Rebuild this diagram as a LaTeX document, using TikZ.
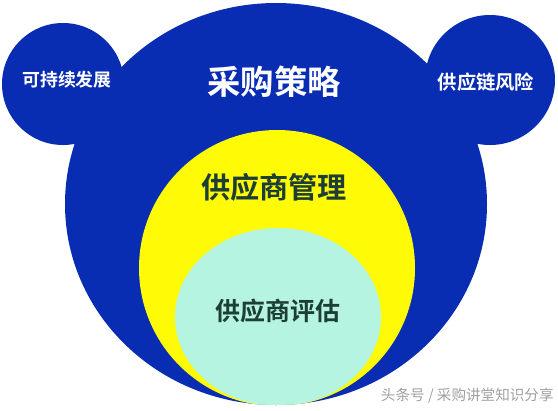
\documentclass[tikz,border=0pt]{standalone}
\usepackage{fontspec}
\newfontfamily\cjk{Noto Sans CJK SC}
\newfontfamily\cjkbold{Noto Sans CJK SC Bold}
\definecolor{headblue}{RGB}{8,44,178}
\definecolor{ringyellow}{RGB}{255,250,5}
\definecolor{coremint}{RGB}{182,244,226}
\definecolor{inktext}{RGB}{28,62,52}
\definecolor{marktext}{RGB}{160,160,160}
\tikzset{
  whitelabel/.style={text=white, inner sep=0pt, font=\cjkbold},
  darklabel/.style={text=inktext, inner sep=0pt, font=\cjkbold},
}

\begin{document}
\begin{tikzpicture}[x=0.02cm, y=-0.02cm]
			%%%%% START %%%%%
			\useasboundingbox[fill=white] (0, 0) rectangle (558, 410);
			
			\fill[headblue] (63, 84) circle (61);
			\fill[headblue] (490, 80) circle (65);
			\fill[headblue] (276, 204) ellipse [x radius=211, y radius=201];
			
			\begin{scope}
				\clip (276, 204) ellipse [x radius=211, y radius=201];
				\fill[ringyellow] (277, 268) circle (138);
				\clip (277, 268) circle (138);
				\fill[coremint] (278, 317) ellipse [x radius=103, y radius=89];
			\end{scope}
			
			\node[whitelabel, font=\cjkbold\fontsize{19pt}{19pt}\selectfont] (strategy) at (274, 82) {采购策略};
			\node[whitelabel, font=\cjkbold\fontsize{10.2pt}{10.2pt}\selectfont] (sustain) at (67, 80) {可持续发展};
			\node[whitelabel, font=\cjkbold\fontsize{11pt}{11pt}\selectfont] (risk) at (486, 82) {供应链风险};
			\node[darklabel, font=\cjkbold\fontsize{16.6pt}{16.6pt}\selectfont] (manage) at (274, 187) {供应商管理};
			\node[darklabel, font=\cjkbold\fontsize{14.2pt}{14.2pt}\selectfont] (assess) at (278, 311) {供应商评估};
			
			\node[text=marktext, inner sep=0pt, anchor=east, font=\cjk\fontsize{8.3pt}{8.3pt}\selectfont] (mark) at (554, 396) {头条号 / 采购讲堂知识分享};
			%%%%% END %%%%%
\end{tikzpicture}
\end{document}
